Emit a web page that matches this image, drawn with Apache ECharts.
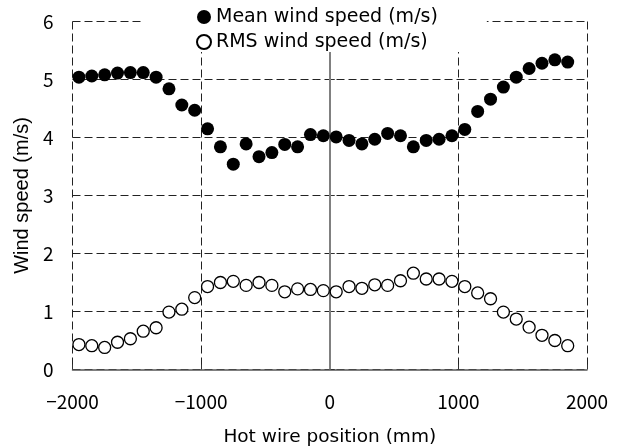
<!DOCTYPE html>
<html>
<head>
<meta charset="utf-8">
<script src="https://cdn.jsdelivr.net/npm/echarts@6/dist/echarts.min.js"></script>
<style>
html,body{margin:0;padding:0;background:#fff;}
#chart{width:619px;height:447px;}
</style>
</head>
<body>
<div id="chart"></div>
<script>
var positions = [-1950,-1850,-1750,-1650,-1550,-1450,-1350,-1250,-1150,-1050,-950,-850,-750,-650,-550,-450,-350,-250,-150,-50,50,150,250,350,450,550,650,750,850,950,1050,1150,1250,1350,1450,1550,1650,1750,1850];
var meanSpeed = [5.04,5.06,5.08,5.11,5.12,5.12,5.04,4.84,4.56,4.47,4.15,3.84,3.54,3.89,3.67,3.74,3.88,3.84,4.05,4.03,4.01,3.95,3.89,3.97,4.07,4.03,3.84,3.95,3.97,4.03,4.14,4.45,4.66,4.87,5.04,5.19,5.28,5.34,5.30];
var rmsSpeed = [0.43,0.41,0.38,0.47,0.53,0.66,0.72,0.99,1.04,1.24,1.43,1.50,1.52,1.45,1.50,1.45,1.34,1.39,1.38,1.36,1.34,1.43,1.40,1.46,1.45,1.53,1.66,1.56,1.56,1.52,1.43,1.32,1.22,0.99,0.87,0.73,0.59,0.50,0.41];
var seriesNames = ['Mean wind speed (m/s)', 'RMS wind speed (m/s)'];
var xTitle = 'Hot wire position (mm)';
var yTitle = 'Wind speed (m/s)';

function pairs(xs, ys){ return xs.map(function(x,i){ return [x, ys[i]]; }); }

var jp = '"Noto Sans CJK JP", "Noto Sans", sans-serif';
var wide = '"DejaVu Sans", sans-serif';
var dash = {color:'#222', width:1, type:[8,4]};

var chart = echarts.init(document.getElementById('chart'), null, {renderer:'canvas'});
chart.setOption({
  animation:false,
  backgroundColor:'#fff',
  grid:{left:72.5, right:32, top:21.5, bottom:77.5, containLabel:false, outerBoundsMode:'none'},
  legend:{
    orient:'vertical', left:143, top:0,
    padding:[7,49,0,53],
    backgroundColor:'#fff',
    itemWidth:14, itemHeight:14, itemGap:5,
    textStyle:{fontFamily:wide, fontSize:19, color:'#000', lineHeight:20},
    data:seriesNames, z:10
  },
  xAxis:{
    type:'value', min:-2000, max:2000, interval:1000,
    name:xTitle, nameLocation:'middle', nameGap:58.5,
    nameTextStyle:{fontFamily:wide, fontSize:18.5, color:'#000'},
    axisLine:{show:true, onZero:false, lineStyle:{color:'#555', width:1.5}},
    axisTick:{show:true, inside:true, length:5, lineStyle:{color:'#333'}},
    axisLabel:{fontFamily:jp, fontSize:19, color:'#000', margin:23,
      formatter:function(v){ return v<0 ? '\u2212'+Math.abs(v) : String(v); }},
    splitLine:{show:true, lineStyle:dash}
  },
  yAxis:{
    type:'value', min:0, max:6, interval:1,
    name:yTitle, nameLocation:'middle', nameGap:39.5, nameRotate:90,
    nameTextStyle:{fontFamily:'"Liberation Sans", Arial, sans-serif', fontSize:20, color:'#000'},
    axisLine:{show:false},
    axisTick:{show:true, inside:true, length:5, lineStyle:{color:'#333'}},
    axisLabel:{fontFamily:jp, fontSize:19, color:'#000', margin:19},
    splitLine:{show:true, lineStyle:dash}
  },
  series:[
    {
      name:seriesNames[0], type:'scatter', symbol:'circle', symbolSize:13,
      itemStyle:{color:'#000', borderColor:'#000', borderWidth:0, opacity:1},
      data:pairs(positions, meanSpeed), z:3,
      markLine:{
        silent:true, symbol:['none','none'], label:{show:false},
        lineStyle:{color:'#808080', width:2, type:'solid'},
        data:[{xAxis:0}], z:1
      }
    },
    {
      name:seriesNames[1], type:'scatter', symbol:'circle', symbolSize:12,
      itemStyle:{color:'#fff', borderColor:'#000', borderWidth:1.3, opacity:1},
      data:pairs(positions, rmsSpeed), z:3
    }
  ]
});
</script>
</body>
</html>
